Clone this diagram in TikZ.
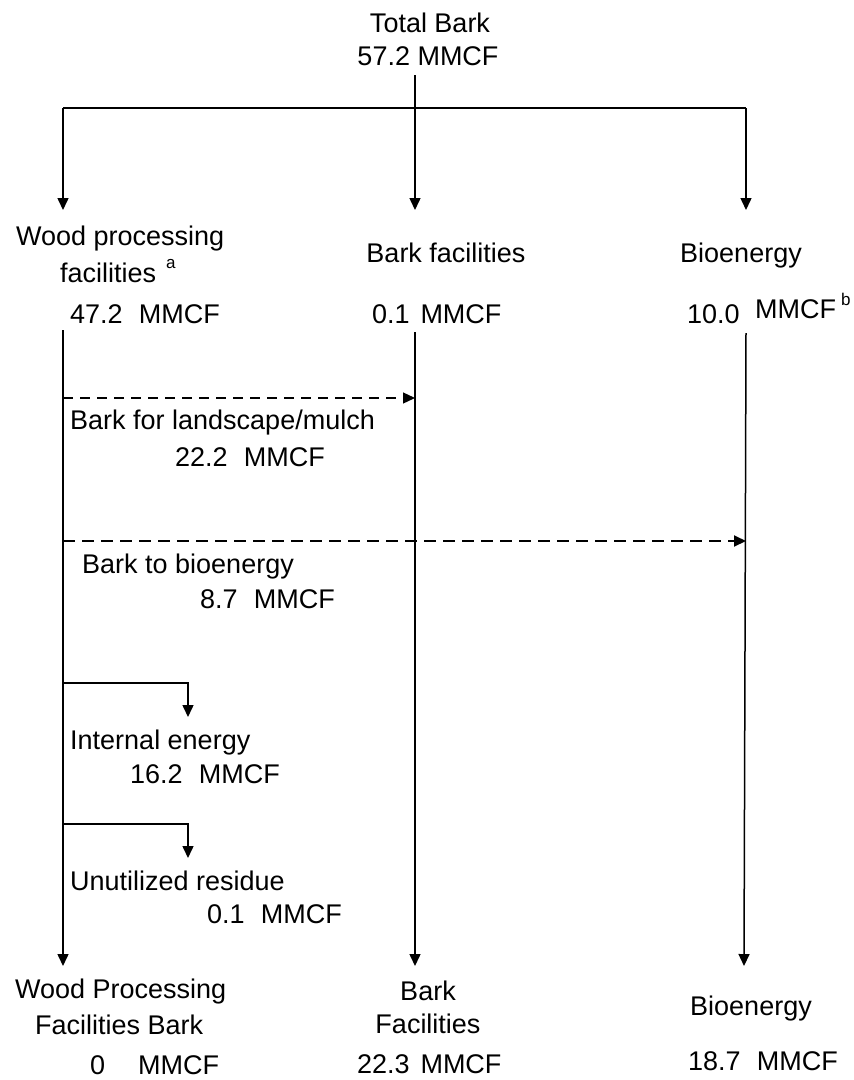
\documentclass[tikz,border=0pt]{standalone}
\usepackage{fontspec}
\setmainfont{Liberation Sans}
\usetikzlibrary{arrows.meta}
\begin{document}
\begin{tikzpicture}[x=1pt,y=-1pt,
  lbl/.style={font=\fontsize{27}{32}\selectfont, inner sep=0pt},
  sup/.style={font=\fontsize{17}{20}\selectfont, inner sep=0pt},
  flow/.style={line width=1.5pt, -{Triangle[length=12pt,width=11pt]}},
  plain/.style={line width=1.5pt},
  dashA/.style={line width=1.3pt, dash pattern=on 10pt off 7pt, -{Triangle[length=12pt,width=11pt]}},
  dashB/.style={line width=2pt, dash pattern=on 12pt off 7pt, -{Triangle[length=12pt,width=11pt]}}]
\useasboundingbox (0,0) rectangle (854,1080);
\fill[white] (0,0) rectangle (854,1080);

% top
\node[lbl, anchor=base] (tb) at (430,32) {Total Bark};
\node[lbl, anchor=base] (tbv) at (428,65) {57.2 MMCF};

\coordinate (topS) at (415,75);
\coordinate (hL) at (63,108);
\coordinate (hR) at (746,108);
\coordinate (tipL) at (63,210);
\coordinate (tipM) at (415,210);
\coordinate (tipR) at (746,210);

\draw[plain] (hL) -- (hR);
\draw[flow] (topS) -- (tipM);
\draw[flow] (hL) -- (tipL);
\draw[flow] (hR) -- (tipR);

% middle row labels
\node[lbl, anchor=base west] (wp1) at (16,245) {Wood processing};
\node[lbl, anchor=base west] (wp2) at (60,282) {facilities};
\node[sup, anchor=base west] (supa) at (166,268) {a};
\node[lbl, anchor=base west] (wpv) at (70,323) {47.2\hspace{0.6em}MMCF};

\node[lbl, anchor=base] (bf) at (446,262) {Bark facilities};
\node[lbl, anchor=base west] (bfv) at (372,323) {0.1\hspace{0.4em}MMCF};

\node[lbl, anchor=base] (be) at (741,262) {Bioenergy};
\node[lbl, anchor=base west] (bev1) at (687,323) {10.0};
\node[lbl, anchor=base west] (bev2) at (755,318) {MMCF};
\node[sup, anchor=base west] (supb) at (841,305) {b};

% verticals
\coordinate (vL0) at (63,330);
\coordinate (vM0) at (415,332);
\coordinate (vR0) at (746,333);
\coordinate (vL1) at (63,966);
\coordinate (vM1) at (415,966);
\coordinate (vR1) at (744,966);
\draw[flow] (vL0) -- (vL1);
\draw[flow] (vM0) -- (vM1);
\draw[flow] (vR0) -- (vR1);

% dashed flows
\coordinate (d1s) at (63,398);
\coordinate (d1e) at (415,398);
\coordinate (d2s) at (63,541);
\coordinate (d2e) at (746,541);
\draw[dashA] (d1s) -- (d1e);
\draw[dashB] (d2s) -- (d2e);

\node[lbl, anchor=base west] (lm) at (70,429) {Bark for landscape/mulch};
\node[lbl, anchor=base west] (lmv) at (175,466) {22.2\hspace{0.6em}MMCF};
\node[lbl, anchor=base west] (bb) at (82,573) {Bark to bioenergy};
\node[lbl, anchor=base west] (bbv) at (200,608) {8.7\hspace{0.6em}MMCF};

% branches
\coordinate (b1s) at (63,683);
\coordinate (b1e) at (188,717);
\coordinate (b2s) at (63,824);
\coordinate (b2e) at (188,858);
\draw[flow] (b1s) -| (b1e);
\draw[flow] (b2s) -| (b2e);

\node[lbl, anchor=base west] (ie) at (70,749) {Internal energy};
\node[lbl, anchor=base west] (iev) at (130,783) {16.2\hspace{0.6em}MMCF};
\node[lbl, anchor=base west] (ur) at (70,890) {Unutilized residue};
\node[lbl, anchor=base west] (urv) at (207,923) {0.1\hspace{0.6em}MMCF};

% bottom
\node[lbl, anchor=base west] (wpb1) at (15,998) {Wood Processing};
\node[lbl, anchor=base west] (wpb2) at (35,1034) {Facilities Bark};
\node[lbl, anchor=base west] (wpbv0) at (90,1074) {0};
\node[lbl, anchor=base west] (wpbv) at (138,1074) {MMCF};

\node[lbl, anchor=base] (bkb1) at (428,1000) {Bark};
\node[lbl, anchor=base] (bkb2) at (428,1033) {Facilities};
\node[lbl, anchor=base west] (bkbv) at (357,1073) {22.3\hspace{0.4em}MMCF};

\node[lbl, anchor=base] (beb) at (751,1015) {Bioenergy};
\node[lbl, anchor=base west] (bebv) at (688,1070) {18.7\hspace{0.6em}MMCF};
\end{tikzpicture}
\end{document}
